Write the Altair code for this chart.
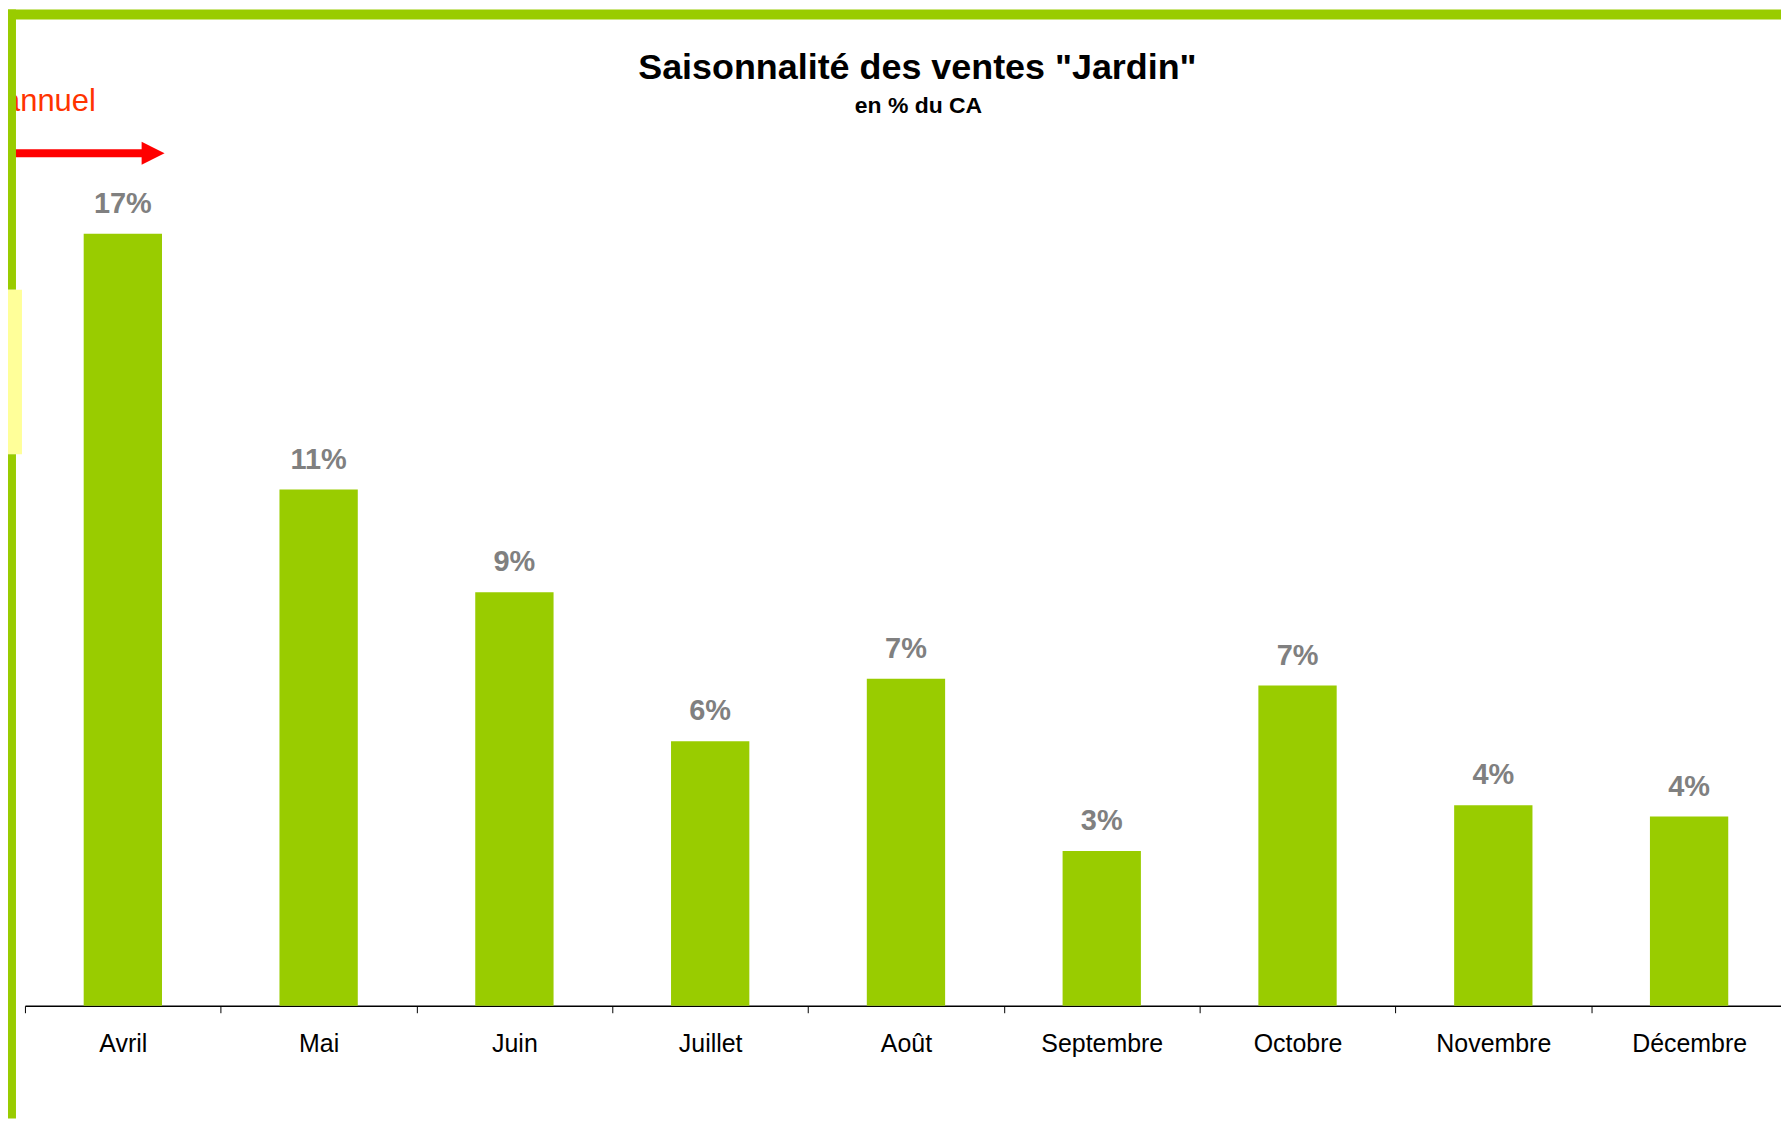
import altair as alt
import pandas as pd

# ---- data ----
months = ["Avril", "Mai", "Juin", "Juillet", "Août", "Septembre", "Octobre", "Novembre", "Décembre"]
shares = [0.1705, 0.1140, 0.0913, 0.0584, 0.0722, 0.0342, 0.0707, 0.0443, 0.0418]

title_text = 'Saisonnalité des ventes "Jardin"'
subtitle_text = "en % du CA"
note_text = "annuel"

df = pd.DataFrame({"mois": months, "part": shares})
one = pd.DataFrame({"k": [0]})

W = 1761
H = 999
FONT = "Liberation Sans"
GREEN = "#99CC00"

x = alt.X(
    "mois:N",
    sort=months,
    scale=alt.Scale(paddingInner=0, paddingOuter=0, range=[0, 1767]),
    axis=alt.Axis(
        title=None,
        labelAngle=0,
        tickBand="extent",
        domainColor="#000000",
        domainWidth=1.5,
        tickColor="#000000",
        tickWidth=1,
        tickSize=7,
        labelFont=FONT,
        labelFontSize=25,
        labelColor="#000000",
        labelPadding=19,
        grid=False,
    ),
)
y = alt.Y("part:Q", scale=alt.Scale(domain=[0, 0.22]), axis=None)

bars = alt.Chart(df).mark_bar(color=GREEN, width=alt.RelativeBandSize(0.4)).encode(x=x, y=y)
labels = alt.Chart(df).mark_text(
    dy=-30, fontSize=29, fontWeight="bold", font=FONT, color="#808080", baseline="middle"
).encode(x=x, y=y, text=alt.Text("part:Q", format=".0%"))

title = alt.Chart(one).mark_text(
    text=title_text, fontSize=36, fontWeight="bold", font=FONT, color="#000000",
    align="center", baseline="middle"
).encode(x=alt.value(895), y=alt.value(59))
subtitle = alt.Chart(one).mark_text(
    text=subtitle_text, fontSize=23, fontWeight="bold", font=FONT, color="#000000",
    align="center", baseline="middle"
).encode(x=alt.value(896), y=alt.value(97))

note = alt.Chart(one).mark_text(
    text=note_text, fontSize=31, font=FONT, color="#FF3300", align="left", baseline="alphabetic"
).encode(x=alt.value(-22), y=alt.value(102))
shaft = alt.Chart(one).mark_rule(color="#FF0000", strokeWidth=8).encode(
    x=alt.value(-17), x2=alt.value(126), y=alt.value(144)
)
head = alt.Chart(one).mark_point(
    shape="M -1 -1 L 1 0 L -1 1 Z", filled=True, color="#FF0000", size=529, opacity=1, strokeWidth=0
).encode(x=alt.value(128.5), y=alt.value(144))

top_border = alt.Chart(one).mark_rect(color=GREEN).encode(
    x=alt.value(-17), x2=alt.value(W + 20), y=alt.value(0), y2=alt.value(10)
)
left_border1 = alt.Chart(one).mark_rect(color=GREEN).encode(
    x=alt.value(-17), x2=alt.value(-9), y=alt.value(0), y2=alt.value(281)
)
yellow = alt.Chart(one).mark_rect(color="#FFFF99").encode(
    x=alt.value(-17), x2=alt.value(-3), y=alt.value(281), y2=alt.value(446)
)
left_border2 = alt.Chart(one).mark_rect(color=GREEN).encode(
    x=alt.value(-17), x2=alt.value(-9), y=alt.value(446), y2=alt.value(1112)
)

chart = alt.layer(
    bars, labels, title, subtitle, note, shaft, head,
    top_border, left_border1, yellow, left_border2
).properties(
    width=W,
    height=H,
    autosize=alt.AutoSizeParams(type="none"),
    padding={"left": 17, "top": 0, "right": 0, "bottom": 113},
    background="#FFFFFF",
).configure_view(stroke=None)

chart.save("out.html", embed_options={"renderer": "svg", "actions": False})
